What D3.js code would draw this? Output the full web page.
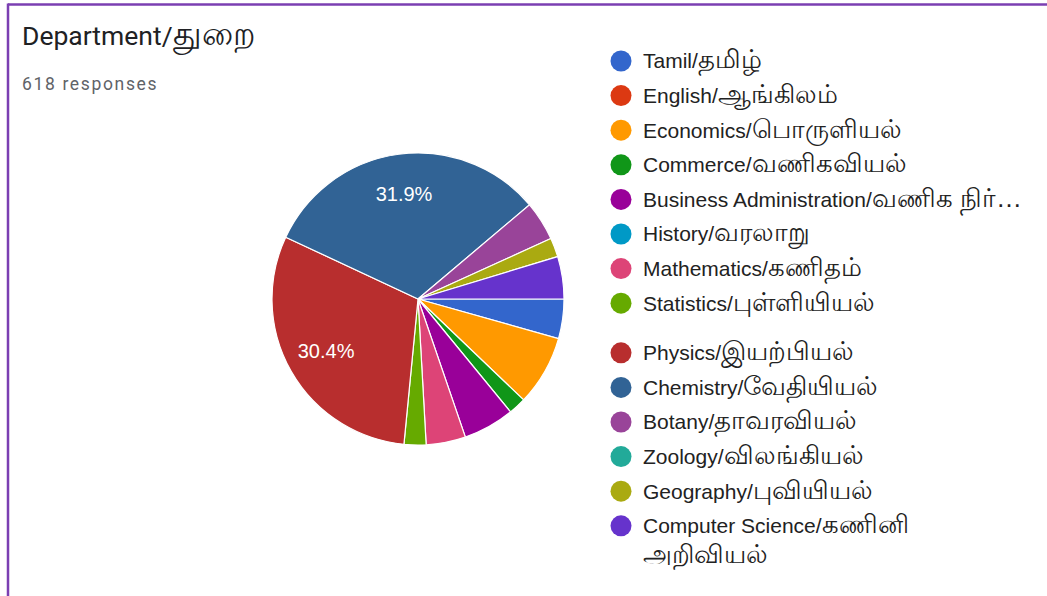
<!DOCTYPE html>
<html>
<head>
<meta charset="utf-8">
<script src="https://cdn.jsdelivr.net/npm/d3@7"></script>
<style>
  html, body { margin: 0; padding: 0; background: #fff; }
  svg { display: block; }
</style>
</head>
<body>
<svg id="chart" width="1047" height="596"></svg>
<script>
const categories = [
  "Tamil/தமிழ்",
  "English/ஆங்கிலம்",
  "Economics/பொருளியல்",
  "Commerce/வணிகவியல்",
  "Business Administration/வணிக நிர்…",
  "History/வரலாறு",
  "Mathematics/கணிதம்",
  "Statistics/புள்ளியியல்",
  "Physics/இயற்பியல்",
  "Chemistry/வேதியியல்",
  "Botany/தாவரவியல்",
  "Zoology/விலங்கியல்",
  "Geography/புவியியல்",
  "Computer Science/கணினி அறிவியல்"
];
const values = [27, 0, 48, 12, 35, 0, 27, 15, 188, 197, 27, 0, 13, 29];
const colors = ["#3366cc", "#dc3912", "#ff9900", "#109618", "#990099", "#0099c6", "#dd4477",
                "#66aa00", "#b82e2e", "#316395", "#994499", "#22aa99", "#aaaa11", "#6633cc"];
const titleLatin = "Department/";
const titleTamil = "துறை";
const subtitle = "618 responses";

const svg = d3.select("#chart");
const W = 1047, H = 596;

// frame
svg.append("line").attr("x1", 8).attr("x2", W).attr("y1", 4.5).attr("y2", 4.5)
  .attr("stroke", "#7b3fb2").attr("stroke-width", 2.5);
svg.append("line").attr("x1", 8).attr("x2", 8).attr("y1", 3.5).attr("y2", H)
  .attr("stroke", "#7b3fb2").attr("stroke-width", 2.5);

// title
const tt = svg.append("text").attr("x", 22).attr("y", 45)
  .attr("font-family", "Roboto, 'Noto Sans', Arial, sans-serif")
  .attr("fill", "#202124");
tt.append("tspan").attr("font-size", 26.5).text(titleLatin);
tt.append("tspan").attr("font-size", 33).text(titleTamil);
svg.append("text").attr("x", 22).attr("y", 90)
  .attr("font-family", "Roboto, Arial, sans-serif")
  .attr("font-size", 17.5).attr("letter-spacing", 1.65).attr("fill", "#5f6368").text(subtitle);

// pie
const cx = 418, cy = 299, R = 146;
const total = d3.sum(values);
const pieGen = d3.pie().sort(null).value(d => d.v)
  .startAngle(Math.PI / 2).endAngle(Math.PI / 2 + 2 * Math.PI);
const slices = pieGen(values.map((v, i) => ({ v, i })));
const arc = d3.arc().innerRadius(0).outerRadius(R);
const labelArc = d3.arc().innerRadius(R * 0.725).outerRadius(R * 0.725);

const g = svg.append("g").attr("transform", `translate(${cx},${cy})`);
g.selectAll("path").data(slices.filter(s => s.value > 0)).join("path")
  .attr("d", arc)
  .attr("fill", d => colors[d.data.i])
  .attr("stroke", "#fff").attr("stroke-width", 1.2);

g.selectAll("text.lbl").data(slices.filter(s => s.value / total > 0.2)).join("text")
  .attr("class", "lbl")
  .attr("transform", d => `translate(${labelArc.centroid(d)})`)
  .attr("text-anchor", "middle").attr("dy", "0.35em")
  .attr("font-family", "Arial, 'Liberation Sans', sans-serif")
  .attr("font-size", 20).attr("fill", "#fff")
  .text(d => d3.format(".1%")(d.value / total));

// legend
const FS = 21, TAMIL_FS = 26;
const legend = svg.append("g");
const rowY = i => 61 + i * 34.6 + (i >= 8 ? 15 : 0);
categories.forEach((c, i) => {
  const y = rowY(i);
  legend.append("circle").attr("cx", 621).attr("cy", y).attr("r", 10.5).attr("fill", colors[i]);
  const t = legend.append("text").attr("x", 643).attr("y", y).attr("dy", "0.35em")
    .attr("font-family", "Arial, 'Liberation Sans', sans-serif")
    .attr("font-size", FS).attr("fill", "#222");
  const slash = c.indexOf("/");
  const latin = c.slice(0, slash + 1);
  const tamil = c.slice(slash + 1);
  t.append("tspan").text(latin);
  if (c.startsWith("Computer Science")) {
    const words = tamil.split(" ");
    t.append("tspan").attr("font-size", TAMIL_FS).text(words[0]);
    t.append("tspan").attr("x", 643).attr("dy", 29.7).attr("font-size", TAMIL_FS).text(words.slice(1).join(" "));
  } else {
    t.append("tspan").attr("font-size", TAMIL_FS).text(tamil);
  }
});
</script>
</body>
</html>
